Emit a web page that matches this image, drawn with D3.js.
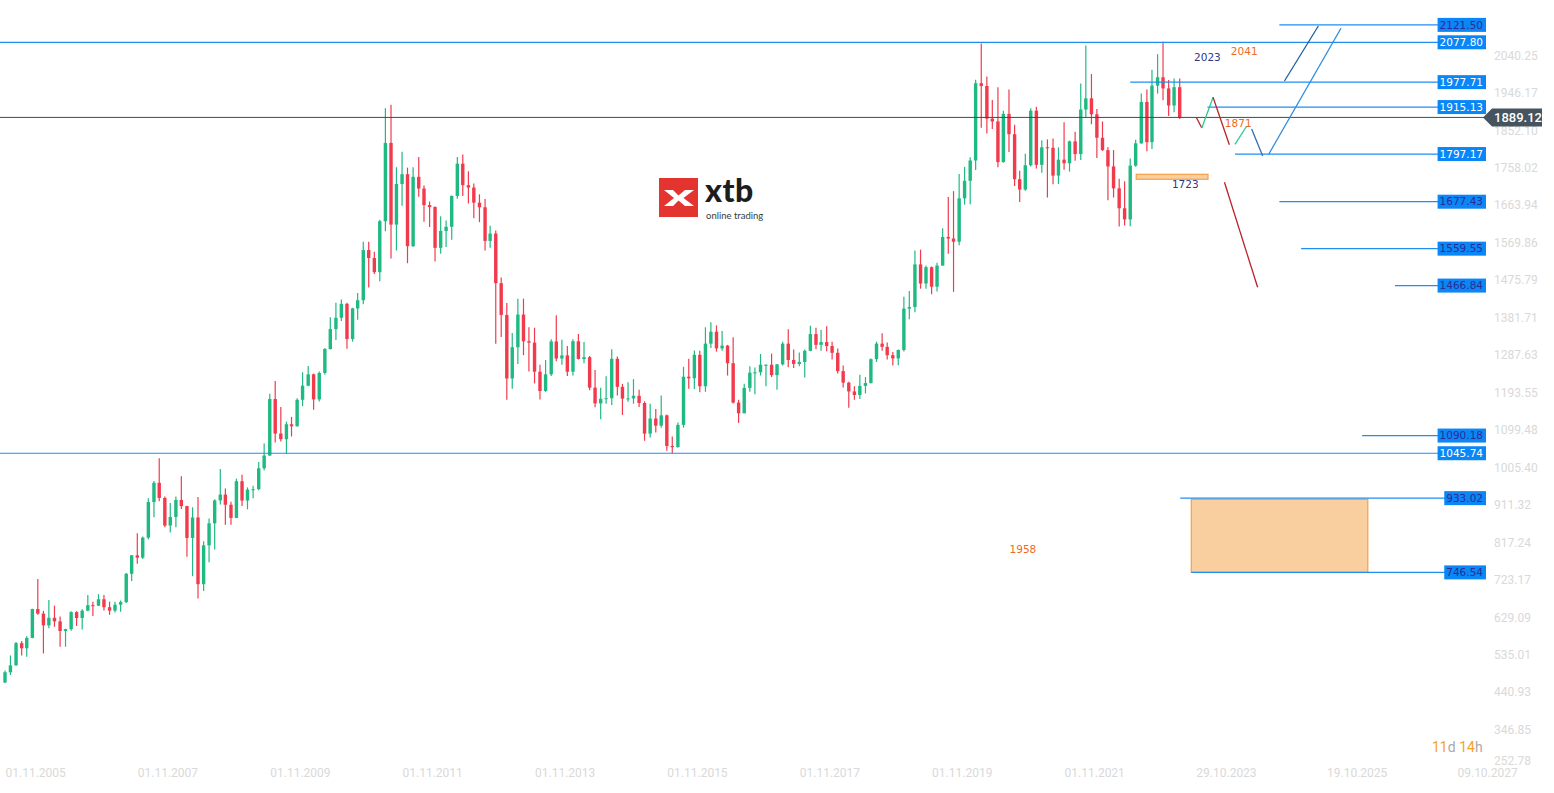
<!DOCTYPE html>
<html><head><meta charset="utf-8">
<script src="https://cdn.jsdelivr.net/npm/d3@7"></script>
<style>body{margin:0;background:#fff;overflow:hidden}svg{display:block}</style>
</head><body>
<svg id="chart" width="1554" height="793"></svg>
<script>
// ---------- DATA ----------
const firstMonth = "2005-11-01"; // monthly candles, one per month from here
const opens = [
 470.0,495.7,
 513.0,568.8,556.0,582.0,654.5,643.0,613.5,632.5,623.5,599.3,604.0,646.7,
 632.0,650.5,664.2,663.0,679.0,659.1,650.5,665.5,672.0,743.0,789.5,783.5,
 833.8,923.3,971.5,933.5,864.2,885.8,928.3,913.0,833.0,884.5,717.0,814.5,
 869.8,927.3,942.0,916.5,883.3,975.5,927.0,954.5,955.5,1008.0,1040.0,1182.0,
 1095.2,1081.0,1118.5,1113.5,1180.0,1215.5,1244.0,1181.0,1247.5,1307.5,1357.5,1386.0,
 1421.0,1332.5,1409.5,1430.0,1556.0,1536.0,1500.5,1628.5,1825.0,1620.0,1722.0,1746.5,
 1565.8,1740.0,1710.5,1669.0,1664.0,1561.6,1604.0,1614.5,1692.0,1773.0,1719.0,1713.0,
 1675.0,1663.5,1579.0,1597.5,1473.0,1393.0,1233.5,1312.0,1394.0,1327.0,1323.5,1250.5,
 1202.0,1244.0,1326.5,1283.7,1291.5,1250.5,1327.0,1282.5,1287.0,1210.5,1171.0,1182.5,
 1184.0,1283.0,1212.5,1183.0,1183.5,1190.0,1172.0,1095.0,1133.0,1115.0,1141.0,1064.0,
 1061.0,1117.0,1238.0,1234.0,1293.0,1214.0,1321.0,1351.0,1309.0,1316.0,1272.0,1173.0,
 1146.0,1210.0,1248.0,1249.0,1268.0,1268.0,1242.0,1269.0,1321.0,1280.0,1270.0,1275.0,
 1303.0,1345.0,1318.0,1325.0,1315.0,1298.0,1252.0,1223.0,1201.0,1192.0,1215.0,1222.0,
 1282.0,1321.0,1313.0,1292.0,1284.0,1305.0,1409.0,1413.0,1520.0,1472.0,1513.0,1464.0,
 1517.0,1589.0,1585.0,1577.0,1686.0,1730.0,1781.0,1975.0,1968.0,1886.0,1879.0,1777.0,
 1898.0,1847.0,1734.0,1708.0,1769.0,1906.0,1770.0,1814.0,1813.0,1743.0,1783.0,1774.0,
 1829.0,1797.0,1909.0,1937.0,1897.0,1838.0,1807.0,1766.0,1711.0,1661.0,1633.0,1768.0,
 1824.0,1928.0,1827.0,1969.0,1990.0,1962.0,1919.0,1965.0
];
const highs = [
 500,538,
 572,574,586,655,730,650,677,663,636,605,649,649,
 654,690,673,692,690,673,673,676,745,790,845,837,
 933,976,1033,937,921,937,988,914,910,936,825,882,
 930,1006,957,924,982,992,960,964,1024,1070,1195,1227,
 1162,1125,1137,1184,1249,1265,1246,1251,1310,1387,1424,1432,
 1424,1411,1448,1577,1577,1552,1632,1912,1921,1764,1803,1763,
 1764,1790,1718,1678,1666,1641,1630,1693,1790,1796,1754,1723,
 1696,1684,1617,1605,1487,1423,1348,1434,1434,1362,1361,1268,
 1280,1332,1392,1331,1315,1332,1345,1325,1290,1255,1210,1239,
 1307,1289,1220,1224,1232,1205,1176,1170,1157,1191,1143,1088,
 1123,1263,1283,1304,1303,1362,1375,1367,1353,1318,1337,1180,
 1220,1264,1261,1295,1269,1296,1270,1326,1357,1306,1299,1306,
 1366,1361,1356,1365,1326,1309,1266,1225,1214,1243,1237,1284,
 1326,1347,1324,1300,1306,1439,1453,1555,1557,1517,1515,1524,
 1611,1689,1704,1747,1765,1789,1984,2075,1992,1933,1965,1906,
 1959,1871,1755,1798,1912,1916,1832,1834,1836,1814,1877,1831,
 1853,1974,2070,1998,1910,1879,1814,1807,1735,1729,1786,1833,
 1949,1959,2009,2048,2079,1983,1987,1987
];
const lows = [
 469,489,
 513,538,535,581,640,543,606,610,560,560,600,612,
 603,649,637,662,651,640,646,648,670,725,768,780,
 830,885,925,860,847,860,906,786,737,681,700,772,
 804,917,866,866,883,913,905,933,953,1003,1039,1073,
 1075,1044,1088,1113,1164,1214,1155,1176,1243,1306,1330,1378,
 1308,1326,1381,1420,1462,1496,1478,1603,1535,1555,1667,1523,
 1564,1690,1627,1614,1527,1547,1564,1582,1685,1692,1673,1636,
 1626,1555,1562,1321,1338,1180,1208,1270,1292,1251,1221,1181,
 1200,1240,1277,1268,1240,1241,1281,1272,1204,1161,1131,1170,
 1167,1191,1142,1175,1170,1162,1077,1085,1098,1110,1052,1046,
 1060,1110,1208,1207,1199,1200,1310,1301,1303,1241,1171,1122,
 1146,1200,1194,1241,1214,1237,1205,1266,1262,1260,1264,1236,
 1302,1307,1303,1302,1281,1246,1211,1160,1180,1182,1196,1221,
 1275,1303,1281,1266,1267,1301,1382,1400,1459,1459,1445,1452,
 1517,1547,1451,1568,1670,1671,1757,1863,1849,1860,1764,1775,
 1802,1717,1677,1705,1766,1761,1750,1688,1721,1722,1758,1753,
 1780,1782,1890,1872,1787,1805,1681,1688,1615,1618,1616,1765,
 1823,1804,1810,1949,1932,1893,1902,1885
];
const closes = [
 495.7,513.0,
 568.8,556.0,582.0,654.5,643.0,613.5,632.5,623.5,599.3,604.0,646.7,632.0,
 650.5,664.2,663.0,679.0,659.1,650.5,665.5,672.0,743.0,789.5,783.5,833.8,
 923.3,971.5,933.5,864.2,885.8,928.3,913.0,833.0,884.5,717.0,814.5,869.8,
 927.3,942.0,916.5,883.3,975.5,927.0,954.5,955.5,1008.0,1040.0,1182.0,1095.2,
 1081.0,1118.5,1113.5,1180.0,1215.5,1244.0,1181.0,1247.5,1307.5,1357.5,1386.0,1421.0,
 1332.5,1409.5,1430.0,1556.0,1536.0,1500.5,1628.5,1825.0,1620.0,1722.0,1746.5,1565.8,
 1740.0,1710.5,1669.0,1664.0,1561.6,1604.0,1614.5,1692.0,1773.0,1719.0,1713.0,1675.0,
 1663.5,1579.0,1597.5,1473.0,1393.0,1233.5,1312.0,1394.0,1327.0,1323.5,1250.5,1202.0,
 1244.0,1326.5,1283.7,1291.5,1250.5,1327.0,1282.5,1287.0,1210.5,1171.0,1182.5,1184.0,
 1283.0,1212.5,1183.0,1183.5,1190.0,1172.0,1095.0,1133.0,1115.0,1141.0,1064.0,1061.0,
 1117.0,1238.0,1234.0,1293.0,1214.0,1321.0,1351.0,1309.0,1316.0,1272.0,1173.0,1146.0,
 1210.0,1248.0,1249.0,1268.0,1268.0,1242.0,1269.0,1321.0,1280.0,1270.0,1275.0,1303.0,
 1345.0,1318.0,1325.0,1315.0,1298.0,1252.0,1223.0,1201.0,1192.0,1215.0,1222.0,1282.0,
 1321.0,1313.0,1292.0,1284.0,1305.0,1409.0,1413.0,1520.0,1472.0,1513.0,1464.0,1517.0,
 1589.0,1585.0,1577.0,1686.0,1730.0,1781.0,1975.0,1968.0,1886.0,1879.0,1777.0,1898.0,
 1847.0,1734.0,1708.0,1769.0,1906.0,1770.0,1814.0,1813.0,1743.0,1783.0,1774.0,1829.0,
 1797.0,1909.0,1937.0,1897.0,1838.0,1807.0,1766.0,1711.0,1661.0,1633.0,1768.0,1824.0,
 1928.0,1827.0,1969.0,1990.0,1962.0,1919.0,1965.0,1889.12
];
const lastPrice = 1889.12;

const yTickValues = [2040.25,1946.17,1852.10,1758.02,1663.94,1569.86,1475.79,1381.71,1287.63,1193.55,1099.48,1005.40,911.32,817.24,723.17,629.09,535.01,440.93,346.85,252.78];
const xTickDates  = ["2005-11-01","2007-11-01","2009-11-01","2011-11-01","2013-11-01","2015-11-01","2017-11-01","2019-11-01","2021-11-01","2023-10-29","2025-10-19","2027-10-09"];
const xTickLabels = ["01.11.2005","01.11.2007","01.11.2009","01.11.2011","01.11.2013","01.11.2015","01.11.2017","01.11.2019","01.11.2021","29.10.2023","19.10.2025","09.10.2027"];

// horizontal price levels: value, date where the line starts
const levelValues = [2121.50,2077.80,1977.71,1915.13,1797.17,1677.43,1559.55,1466.84,1090.18,1045.74,933.02,746.54];
const levelStarts = ["2025-02-01","2005-10-04","2022-11-01","2024-01-01","2024-06-01","2025-02-01","2025-06-01","2026-11-01","2026-05-04","2005-10-04","2023-08-04","2023-10-04"];
const levelLightText = [false,true,true,true,true,false,false,false,false,true,false,false];

// zones: [start date, end date, top value, bottom value]
const zones = [
  ["2023-10-04","2026-06-04",930.0,746.54],
  ["2022-12-04","2024-01-04",1746.3,1733.8]
];

// projected path segments: [date1, value1, date2, value2, kind]
const pathSegments = [
  ["2023-11-01",1889.0,"2023-12-01",1862.6,"down"],
  ["2023-12-01",1862.6,"2024-02-01",1939.7,"up"],
  ["2024-02-01",1939.7,"2024-05-01",1820.6,"down"],
  ["2024-06-01",1821.6,"2024-08-04",1866.9,"up"],
  ["2024-09-01",1860.1,"2024-11-01",1792.3,"steel"],
  ["2024-12-04",1796.5,"2026-01-07",2113.0,"blue"],
  ["2025-03-01",1980.6,"2025-09-04",2118.7,"navy"],
  ["2024-04-04",1726.2,"2024-10-04",1462.5,"down"]
];

// annotation texts: [date, value, text, kind]
const notes = [
  ["2024-01-01",2041,"2023","navy"],
  ["2024-07-22",2056,"2041","orange"],
  ["2024-06-19",1875,"1871","orange"],
  ["2021-03-19",805,"1958","orange"],
  ["2023-09-01",1722,"1723","navy"]
];

// ---------- CHART ----------
const svg = d3.select("#chart");
const parse = d3.utcParse("%Y-%m-%d");
const start = parse(firstMonth);
const monthDates = closes.map((_, i) => d3.utcMonth.offset(start, i));

const x = d3.scaleUtc().domain([start, monthDates[monthDates.length - 1]]).range([5, 1179.7]);
const y = d3.scaleLinear().domain([2184, 250.3]).range([0, 770]);

const UP = "#1fb982", DOWN = "#f23a4d";
const segColor = {down:"#b8232b", up:"#2fc98e", steel:"#2a6fb4", blue:"#2d8ce0", navy:"#1f5fa3"};
const noteColor = {navy:"#2e3a8a", orange:"#f06a1d"};

// Y axis (right)
const yAxis = d3.axisRight(y).tickValues(yTickValues).tickSize(0).tickPadding(0).tickFormat(d3.format(".2f"));
const gy = svg.append("g").attr("transform","translate(1494,0)").call(yAxis);
gy.select(".domain").remove();
gy.selectAll("text").attr("fill","#d9d9d9").attr("font-family","Roboto, sans-serif").attr("font-size",12).attr("dy","0.2em");
gy.selectAll(".tick").attr("transform", d => `translate(0,${Math.min(y(d), 763)})`);

// X axis (bottom)
const xAxis = d3.axisBottom(x).tickValues(xTickDates.map(parse)).tickSize(0).tickPadding(0)
  .tickFormat((d, i) => xTickLabels[i]);
const gx = svg.append("g").attr("transform","translate(0,766)").call(xAxis);
gx.select(".domain").remove();
gx.selectAll("text").attr("text-anchor","start").attr("fill","#d9d9d9")
  .attr("font-family","Roboto, sans-serif").attr("font-size",12).attr("dy","0.9em");

// Logo watermark
const logo = svg.append("g").attr("transform","translate(659,178)");
logo.append("rect").attr("width",39).attr("height",39).attr("fill","#e3342f");
logo.append("path").attr("fill","#fff")
  .attr("d","M5,12 L14,12 L19.5,17.5 L26,12 L35,12 L24.5,20 L35,28 L26,28 L19.5,22.5 L14,28 L5,28 L15,20 Z");
logo.append("text").attr("x",46).attr("y",24).attr("font-family","Lato, sans-serif")
  .attr("font-weight",900).attr("font-size",32).attr("fill","#1d1d1d").attr("letter-spacing",0.5).text("xtb");
logo.append("text").attr("x",47).attr("y",40.5).attr("font-family","Lato, sans-serif")
  .attr("font-size",9.5).attr("fill","#3a3a3a").text("online trading");

// Zones
svg.append("g").selectAll("rect").data(zones).join("rect")
  .attr("x", d => x(parse(d[0])))
  .attr("y", d => y(d[2]))
  .attr("width", d => x(parse(d[1])) - x(parse(d[0])))
  .attr("height", d => y(d[3]) - y(d[2]))
  .attr("fill","#f9cf9f").attr("stroke","#f2a048").attr("stroke-width",1.2);

// Candles
const candles = svg.append("g");
closes.forEach((c, i) => {
  const o = opens[i], h = highs[i], l = lows[i];
  const cx = x(monthDates[i]);
  const col = c >= o ? UP : DOWN;
  candles.append("line").attr("x1",cx).attr("x2",cx).attr("y1",y(h)).attr("y2",y(l))
    .attr("stroke",col).attr("stroke-width",1.2);
  const top = y(Math.max(o,c)), bot = y(Math.min(o,c));
  candles.append("rect").attr("x",cx-1.7).attr("width",3.4).attr("y",top)
    .attr("height",Math.max(1,bot-top)).attr("fill",col);
});

// Level lines + labels
const levels = svg.append("g");
levelValues.forEach((v, i) => {
  const yy = y(v);
  levels.append("line").attr("x1",x(parse(levelStarts[i]))).attr("x2",1486)
    .attr("y1",yy).attr("y2",yy).attr("stroke","#1f8ef0").attr("stroke-width",1.2);
});
// current price line
levels.append("line").attr("x1",0).attr("x2",1486).attr("y1",y(lastPrice)).attr("y2",y(lastPrice))
  .attr("stroke","#3d4a55").attr("stroke-width",1);

levelValues.forEach((v, i) => {
  const yy = y(v);
  const g = levels.append("g");
  const t = g.append("text").attr("x",1483).attr("y",yy).attr("dy","0.36em").attr("text-anchor","end")
    .attr("font-family","'DejaVu Sans', sans-serif").attr("font-size",10.5)
    .attr("fill", levelLightText[i] ? "#ffffff" : "#2b2c94").text(d3.format(".2f")(v));
  const w = t.node().getComputedTextLength();
  g.insert("rect","text").attr("x",1486 - w - 5).attr("y",yy-7).attr("width",w+5).attr("height",14).attr("fill","#0a86f7");
});

// Projection segments
svg.append("g").selectAll("line").data(pathSegments).join("line")
  .attr("x1", d => x(parse(d[0]))).attr("y1", d => y(d[1]))
  .attr("x2", d => x(parse(d[2]))).attr("y2", d => y(d[3]))
  .attr("stroke", d => segColor[d[4]]).attr("stroke-width",1.3);

// Notes
svg.append("g").selectAll("text").data(notes).join("text")
  .attr("x", d => x(parse(d[0]))).attr("y", d => y(d[1])).attr("dy","0.35em")
  .attr("text-anchor","middle").attr("font-family","'DejaVu Sans', sans-serif").attr("font-size",10.5)
  .attr("fill", d => noteColor[d[3]]).text(d => d[2]);

// Current price tag
const py = y(lastPrice);
const tag = svg.append("g");
tag.append("path").attr("fill","#46545f")
  .attr("d",`M1483,${py} L1492,${py-9} L1542,${py-9} L1542,${py+9} L1492,${py+9} Z`);
tag.append("text").attr("x",1494).attr("y",py).attr("dy","0.36em").attr("font-family","Roboto, sans-serif")
  .attr("font-weight",500).attr("font-size",13).attr("fill","#fff").text(d3.format(".2f")(lastPrice));

// Time remaining
const tr = svg.append("text").attr("x",1432).attr("y",752).attr("font-family","Roboto, sans-serif").attr("font-size",14);
tr.append("tspan").attr("fill","#f7a21b").text("11");
tr.append("tspan").attr("fill","#a9a9a9").text("d ");
tr.append("tspan").attr("fill","#f7a21b").text("14");
tr.append("tspan").attr("fill","#a9a9a9").text("h");
</script>
</body></html>
